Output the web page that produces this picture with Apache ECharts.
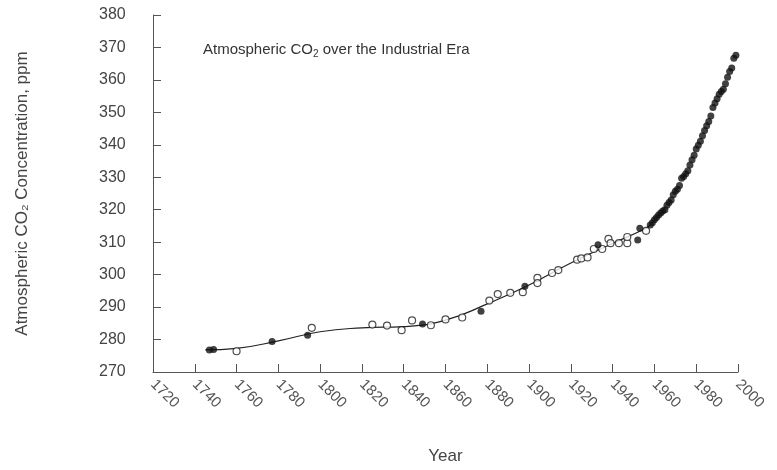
<!DOCTYPE html>
<html>
<head>
<meta charset="utf-8">
<script src="https://cdn.jsdelivr.net/npm/echarts@6/dist/echarts.min.js"></script>
<style>html,body{margin:0;padding:0;background:#fff}#chart{width:777px;height:470px}</style>
</head>
<body>
<div id="chart"></div>
<script>
// ice core samples, open circles
var openYears = [1760,1796,1825,1832,1839,1844,1853,1860,1868,1881,1885,1891,1897,1904,1904,1911,1914,1923,1925,1928,1931,1935,1938,1939,1943,1947,1947,1956];
var openVals  = [276.4,283.6,284.6,284.3,282.9,285.9,284.4,286.2,286.8,292.0,294.0,294.4,294.6,299.0,297.4,300.5,301.4,304.6,305.0,305.3,307.9,307.9,311.0,309.7,309.7,309.7,311.6,313.5];
// other cores, filled circles
var fillYears = [1747,1749,1777,1794,1849,1877,1898,1933,1952,1953];
var fillVals  = [276.8,276.9,279.4,281.3,284.8,288.7,296.4,309.2,310.7,314.3];
// Mauna Loa annual means
var mlYears = [1958,1959,1960,1961,1962,1963,1964,1965,1966,1967,1968,1969,1970,1971,1972,1973,1974,1975,1976,1977,1978,1979,1980,1981,1982,1983,1984,1985,1986,1987,1988,1989,1990,1991,1992,1993,1994,1995,1996,1997,1998,1999];
var mlVals  = [315.3,316.0,316.9,317.6,318.4,319.0,319.6,320.0,321.4,322.2,323.0,324.6,325.7,326.3,327.5,329.7,330.2,331.1,332.0,333.8,335.4,336.8,338.7,339.9,341.1,342.8,344.4,345.9,347.2,348.9,351.5,352.9,354.2,355.6,356.4,357.1,358.8,360.8,362.6,363.7,366.7,367.6];
// smoothed fit curve
var fitYears = [1745,1760,1780,1800,1820,1840,1860,1880,1900,1920,1940,1955,1958];
var fitVals  = [276.8,277.3,279.6,282.4,283.6,284.0,286.0,291.0,296.8,303.6,309.6,314.0,315.3];

function pairs(xs, ys){ return xs.map(function(x,i){ return [x, ys[i]]; }); }

var chart = echarts.init(document.getElementById('chart'));
chart.setOption({
  animation: false,
  textStyle: {fontFamily: 'Liberation Sans'},
  title: {
    text: 'Atmospheric CO{s|2} over the Industrial Era',
    left: 198, top: 36,
    textStyle: {fontSize: 15, fontWeight: 'normal', color: '#333', fontFamily: 'Liberation Sans',
      rich: {s: {fontSize: 10, verticalAlign: 'bottom', padding: [8,0,0,0], color: '#333'}}}
  },
  grid: {left: 153, right: 39, top: 15, bottom: 98},
  xAxis: {
    type: 'value', min: 1720, max: 2000, interval: 20,
    name: 'Year', nameLocation: 'middle', nameGap: 76,
    nameTextStyle: {fontSize: 17, color: '#444'},
    axisLine: {lineStyle: {color: '#555'}},
    axisTick: {inside: true, length: 8, lineStyle: {color: '#555'}},
    axisLabel: {rotate: -45, fontSize: 15, color: '#555', margin: 10,
      formatter: function(v){ return String(v); }},
    splitLine: {show: false}
  },
  yAxis: {
    type: 'value', min: 270, max: 380, interval: 10,
    name: 'Atmospheric CO\u2082 Concentration, ppm', nameLocation: 'middle', nameGap: 122,
    nameTextStyle: {fontSize: 17, color: '#444'},
    axisLine: {show: true, lineStyle: {color: '#555'}},
    axisTick: {inside: true, length: 8, lineStyle: {color: '#555'}},
    axisLabel: {fontSize: 16, color: '#444', margin: 54, align: 'left'},
    splitLine: {show: false}
  },
  series: [
    {type: 'line', data: pairs(fitYears, fitVals), smooth: true, showSymbol: false,
     lineStyle: {color: '#222', width: 1.2}, z: 1},
    {type: 'scatter', data: pairs(openYears, openVals), symbolSize: 7,
     itemStyle: {color: '#fff', borderColor: '#222', borderWidth: 1.2}, z: 2},
    {type: 'scatter', data: pairs(fillYears, fillVals), symbolSize: 7,
     itemStyle: {color: '#111'}, z: 3},
    {type: 'scatter', data: pairs(mlYears, mlVals), symbolSize: 7,
     itemStyle: {color: '#111'}, z: 3}
  ]
});
</script>
</body>
</html>
